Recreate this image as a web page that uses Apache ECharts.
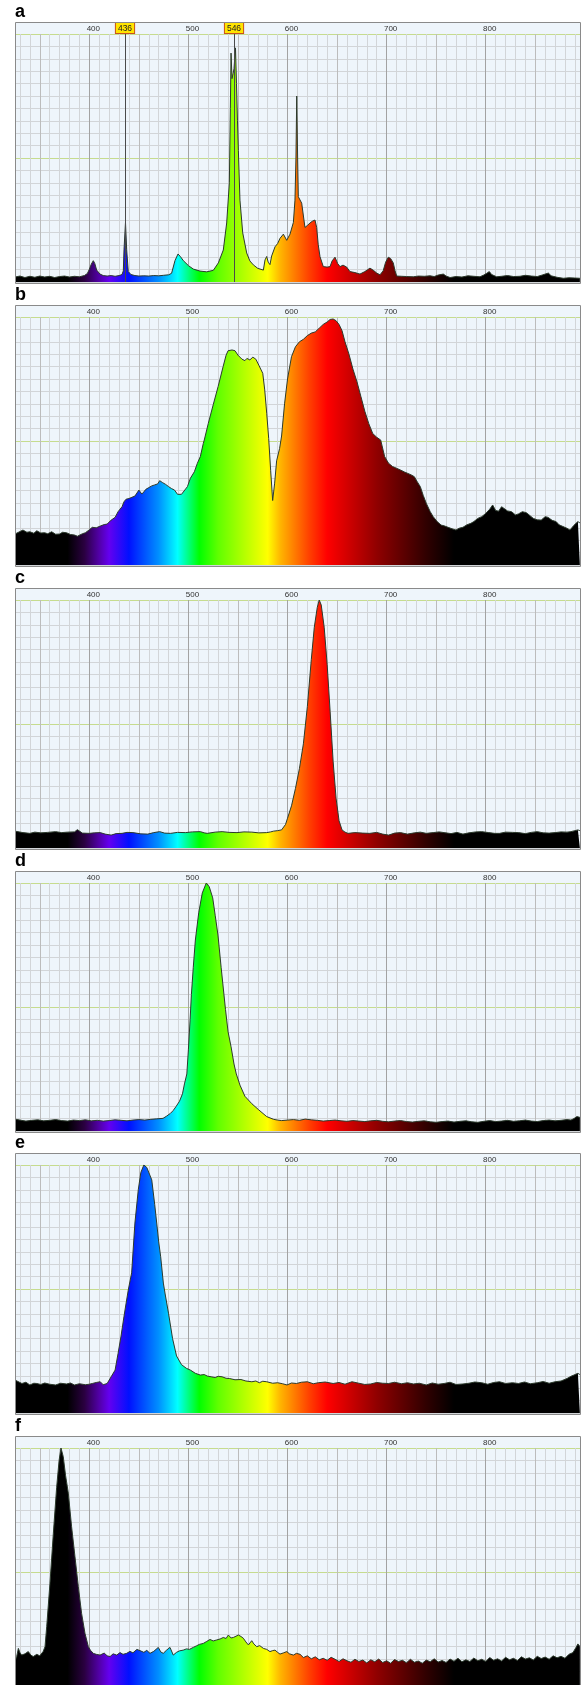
<!DOCTYPE html>
<html>
<head>
<meta charset="utf-8">
<script src="https://cdn.jsdelivr.net/npm/echarts@6/dist/echarts.min.js"></script>
<style>
  html, body { margin: 0; padding: 0; background: #fff; }
  #chart { width: 581px; height: 1685px; }
</style>
</head>
<body>
<div id="chart"></div>
<script>
// panel letters and axis labels
const panelNames = ['a', 'b', 'c', 'd', 'e', 'f'];
const tickLabels = [400, 500, 600, 700, 800];
const markerLines = [436, 546];

// spectra: [wavelength nm, intensity %]
const specA = [[325,2.0],[330,2.4],[335,1.8],[340,2.3],[345,1.9],[350,2.4],[355,2.0],[360,2.3],[365,1.8],[370,2.2],[375,2.4],[380,2.0],[385,2.3],[390,2.1],[395,2.6],[398,3.4],[400,5.1],[402,7.2],[404,8.6],[405.5,7.5],[407.4,4.8],[410.8,3.2],[414,2.6],[418,2.4],[422,2.6],[426,2.3],[430,2.6],[433,3.0],[434.3,4.5],[435,13],[436.5,24],[437.7,13],[439.3,4.2],[442,3.0],[446,2.6],[450,2.4],[455,2.5],[460,2.4],[465,2.6],[470,2.5],[475,2.7],[480,2.9],[483,3.5],[486.5,8.7],[489.5,11.3],[492,10.2],[494.9,8.6],[500,6.6],[505,5.2],[511.7,4.4],[518.4,4.1],[525.1,4.7],[530.2,7.7],[535.2,12.9],[538.6,23.8],[541.3,40],[542.3,70],[543,92.3],[544,82],[545,84],[546,86],[547.5,94.4],[548.5,80],[549.5,65],[550.4,53],[552,33],[554.8,19.8],[558.8,11.7],[562,8.5],[565.5,6.9],[570,5.5],[575.6,4.8],[577.3,8.9],[579,10.3],[580.5,8.0],[582.3,7.0],[584,10.5],[587.4,14.2],[590,15.5],[592.4,17.6],[595.8,19.3],[599.2,16.8],[602.5,19.3],[605.9,24],[607.5,33],[608.5,50],[609.3,75],[610.2,50],[610.9,34.4],[614.3,31.8],[617.6,22],[620,22.8],[622.7,23.8],[625,24.5],[627.7,25],[629.4,22],[631,15],[632.8,10.2],[636.1,6.2],[640,6.0],[642.9,6.2],[645,8.5],[647.9,10],[650.5,7.5],[653,6.2],[656,6.8],[659.7,6.0],[663,4.2],[668,3.8],[673.1,3.2],[678,4.2],[681,5.0],[683.2,5.6],[687,4.6],[690,3.6],[693.3,2.9],[696.5,4.5],[699,8],[701.7,10],[704,9.5],[706.7,7.7],[708.5,4.5],[710.2,2.4],[715,2.3],[720,2.2],[726.9,2.1],[732,2.4],[738,2.3],[743.8,2.5],[748,2.2],[752,2.8],[757.2,3.2],[760,2.4],[764,1.8],[770,2.2],[776,2.0],[782,2.5],[788,2.3],[794.2,2.1],[798,2.8],[801,3.5],[803.6,4.2],[806,3.0],[811,2.1],[816,2.3],[822,2.6],[828,2.2],[834.6,2.3],[840,2.7],[846,2.4],[852,2.2],[857,2.8],[860,3.2],[863.2,3.6],[866,2.5],[872,1.9],[878.3,1.5],[884,1.7],[890,1.6],[895,1.5]];

const specB = [[325,12.5],[330,13.5],[333,14.1],[337,13.2],[340,13.4],[344,12.8],[347,13.8],[351,12.9],[355,13.0],[358,12.6],[362,13.4],[366,12.4],[370,12.5],[373,13.2],[377,13.0],[381,12.3],[385,12.1],[388,11.6],[390,11.4],[393,12.6],[396,13.0],[400,14.2],[403,15.2],[407,15.0],[411,15.7],[415,16.3],[418,16.5],[422,18.1],[424,17.5],[426,19.2],[429,21.5],[431,22.3],[433,23.5],[435,25.5],[437,26.5],[440,26.8],[443,27.3],[446,27.8],[448,28.2],[450,30.2],[451,30.9],[453,28.6],[455,29.5],[457,30.5],[460,31.2],[463,31.9],[466,32.3],[469,32.7],[471,34],[474,33.2],[477,32.5],[480,31.6],[483,30.8],[486,30.2],[489,28.5],[491,27.8],[493,28.5],[495,28.9],[499,31.6],[502,35],[506,37.6],[509,41],[512,43.7],[515,49],[516,50.4],[520,57],[525,64.6],[530,72],[535,80],[538,84.6],[540,86.4],[544,86.7],[547,86.4],[550,84.6],[554,83],[557,82.4],[559,83.3],[562,82.7],[565,83.8],[568,83],[571,80.6],[575,77.3],[577,70.6],[579,61.2],[581,51],[583,38],[585,26],[587,33],[589,42],[592,47],[594,52],[597,65],[600,75],[604,84],[608,88],[612,90],[616,91],[620,92.5],[624,93.5],[628,94],[632,95.5],[636,97],[640,98],[643,99],[646,99.2],[649,98.5],[652,97],[655,94.5],[658,90],[662,85],[666,79],[670,74],[674,68],[678,62],[682,57],[686,53],[690,51.5],[694,50.4],[698,43.7],[702,41],[706,39.7],[710,39],[714,38.3],[718,37.5],[721,37],[725,36.3],[728,35.6],[731,33.5],[734,31.6],[737,28],[740,24.9],[744,21.5],[747,19.5],[751,17.5],[755,16.1],[758,15.8],[762,15.2],[766,14.6],[770,14.1],[773,14.8],[777,15.2],[781,16.2],[785,16.8],[788,17.5],[792,18.8],[796,19.5],[800,20.8],[804,22.5],[807,24.2],[810,22],[813,21.7],[816,23.5],[818,22.8],[822,21.8],[826,21.5],[830,20.2],[833,20.6],[837,21.5],[841,21.1],[845,19.8],[848,18.8],[852,18.2],[856,18.1],[860,19.5],[863,19.2],[867,18.0],[871,17.5],[874,16.2],[878,15.5],[882,14.8],[885,14.1],[889,16.0],[893,17.5],[895,17.0]];

const specC = [[325,6.8],[327,6.6],[333,6.2],[340,5.9],[345,6.4],[351,6.1],[358,6.3],[366,6.6],[372,6.2],[378,6.4],[385,6.5],[388,7.4],[393,6.0],[400,5.9],[405,6.1],[411,6.2],[416,5.6],[422,5.2],[427,5.8],[433,5.9],[438,6.3],[444,6.2],[452,5.7],[459,5.6],[465,6.2],[471,6.6],[476,6.0],[482,5.9],[489,6.3],[497,6.2],[504,6.5],[512,6.6],[516,6.1],[519,5.9],[527,6.4],[534,6.6],[541,6.3],[549,6.2],[556,6.5],[564,6.4],[571,6.1],[579,6.2],[583,6.5],[586,6.8],[590,7.0],[594,7.3],[596,8.0],[598,9.5],[600,12],[604,17],[608,24],[612,32],[616,42],[620,57],[624,76],[627,89],[630,97],[632,100],[634,98],[637,89],[640,74],[643,55],[646,35],[649,20],[652,11],[655,7.3],[658,6.4],[661,5.9],[668,6.2],[676,6.0],[683,5.9],[690,6.3],[696,5.6],[702,5.2],[708,6.0],[714,6.2],[721,5.6],[728,6.1],[734,6.4],[740,5.9],[747,6.2],[753,6.5],[758,6.2],[765,5.8],[771,6.3],[777,5.6],[783,6.1],[790,6.5],[796,6.6],[803,6.2],[809,5.9],[814,5.9],[820,6.4],[827,6.3],[833,6.2],[840,5.8],[846,6.3],[852,6.6],[858,6.1],[864,6.0],[870,6.2],[876,6.5],[882,6.4],[886,6.6],[890,7.0],[893,7.3],[895,7.0]];

const specD = [[325,4.8],[330,4.4],[336,4.0],[342,4.3],[348,4.5],[354,4.1],[360,4.3],[366,4.6],[372,4.2],[378,4.0],[384,4.4],[390,4.2],[396,4.5],[402,4.1],[408,4.3],[414,4.0],[420,4.2],[426,4.5],[432,4.3],[438,4.1],[444,4.4],[450,4.6],[456,4.4],[462,4.7],[468,4.9],[474.4,5.1],[478,6.0],[481.8,7.1],[484.5,8.2],[487.4,9.8],[491,12],[494,15],[496,19],[498.4,23],[500,33],[501.7,45],[503,55],[504.9,66],[507,77],[510.4,88],[514,96],[518,100],[521,98.5],[524.5,94],[527,87],[529.8,79],[533,66],[537.4,49],[540,40],[543,34],[546,27],[548.3,23],[552,18.5],[557,14],[564,11],[571,8.5],[579,5.8],[586,4.7],[590,4.4],[594,4.2],[600,4.4],[606,4.6],[612,4.3],[618,4.8],[624,4.5],[630,4.3],[636,4.0],[642,4.2],[648,4.4],[654,4.1],[660,3.9],[666,4.2],[672,4.0],[678,3.8],[684,4.1],[690,4.3],[696,3.9],[702,3.7],[708,4.0],[714,4.2],[720,3.8],[726,3.6],[732,3.9],[738,4.1],[744,3.7],[750,3.5],[756,3.8],[762,4.0],[768,3.6],[774,3.9],[780,4.1],[786,3.7],[792,3.5],[798,3.9],[804,4.2],[810,3.8],[816,4.0],[822,4.3],[828,3.9],[834,4.1],[840,4.4],[846,4.0],[852,3.8],[858,4.2],[864,4.4],[870,4.1],[876,4.3],[882,4.6],[886,4.4],[889,5.0],[892,5.8],[895,5.5]];

const specE = [[325,13.3],[327,13.3],[332,11.9],[336,12.4],[340,11.3],[344,12.0],[347,11.9],[351,11.5],[355,12.1],[360,11.6],[366,11.3],[371,12.0],[377,11.7],[381,12.1],[385,11.3],[390,11.8],[396,11.4],[400,11.6],[403,11.9],[407,12.3],[411,12.6],[414,11.4],[418,11.9],[422,14.6],[426,17.3],[429,24],[432,31],[435,39],[437,44],[439.3,49.6],[442.7,56.5],[446,76.6],[449.4,90],[452,97],[455,100],[458,99],[461,96],[463,94],[466,84],[468,76.6],[470,69],[472,63],[474.7,52.4],[476.5,48],[480,40],[484,30],[488,23],[493,19.5],[498,18],[502,17.3],[507,16.0],[512,15.3],[516,15.5],[519,14.9],[523,14.6],[527,14.3],[530,14.8],[534,14.6],[538,14.0],[541.5,13.9],[547,13.4],[553,13.5],[558,12.9],[564,12.6],[568,12.9],[571.5,12.2],[575,12.8],[579,12.6],[585,12.0],[590,12.2],[595,11.8],[599.5,11.3],[604,12.1],[609,11.9],[614,12.4],[620,12.6],[626,11.8],[631,12.2],[638,12.5],[646,11.9],[652,12.3],[658,11.6],[665,12.6],[672,12.0],[678,11.5],[684,11.7],[690,12.3],[696,12.0],[702,11.9],[708,12.4],[715,11.8],[721,12.2],[727,11.7],[733,12.0],[740,11.3],[746,12.1],[752,11.6],[758,11.9],[764,12.4],[770,11.5],[777,11.7],[783,12.0],[789,12.5],[796,12.2],[802,11.6],[808,12.3],[814,12.6],[820,11.9],[827,12.2],[833,11.9],[839,12.5],[845,11.8],[852,12.2],[858,12.7],[864,12.0],[870,12.6],[876,12.9],[882,13.9],[886,14.8],[889,15.3],[893,16],[895,15.5]];

const specF = [[325,14],[326.7,15.9],[328.4,19.2],[330,17.5],[331.7,16.5],[335,17.0],[338.4,17.9],[341,16.5],[343.4,15.9],[347,16.8],[350,16.2],[351.9,16.5],[353.5,18],[355.3,19.9],[357,28],[360.3,45.5],[363.7,65.6],[367,84],[369.5,95],[371.4,100],[373.7,96.5],[376,89],[378.8,81.8],[382.1,68.3],[385.5,56.2],[388.9,44.1],[392.2,33.3],[395.6,25.3],[399,19.9],[401,18.5],[404,17.2],[407,16.8],[410.8,16.5],[415,17.3],[418,16.2],[420.9,15.9],[424,17],[427.6,16.5],[431,17.5],[434,16.8],[437.7,17.2],[441,18],[444,17.4],[448,18.8],[451.1,18.3],[455,17.6],[458,18.4],[461.2,17.2],[465,18.0],[469.6,19.6],[472,17.8],[474.6,17.2],[478,18.5],[481.4,19.6],[484.7,16.5],[488,17.6],[491,18.2],[494.8,18.5],[498,19.0],[501,18.8],[504.9,19.6],[508,20.2],[511,20.8],[515,21.2],[518,21.9],[521.8,22.8],[525,22.2],[528.5,22.6],[532,23.0],[535.2,23.6],[538,23.2],[540.3,24.6],[543,23.4],[545.3,23.6],[548,24.1],[550.4,24.6],[553,24.0],[555.4,23.3],[558,21.8],[560.5,20.6],[563.9,22.3],[566,21],[568.9,19.9],[572,20.3],[575.6,19.2],[579,18.8],[582.3,17.9],[585,18.3],[587.4,18.5],[590,17.6],[592.4,16.9],[596,17.4],[599.2,17.9],[602,17.0],[605.9,16.5],[609,17.2],[612.7,16.8],[616,15.5],[620,16.2],[624,15.0],[628,15.8],[632,14.6],[636,15.2],[640,14.4],[644,15.6],[648,14.8],[652,13.9],[656,15.0],[660,14.2],[664,13.6],[668,14.8],[672,13.9],[676,14.5],[680,13.3],[684,14.6],[688,13.8],[692,14.9],[696,13.5],[700,14.2],[704,13.2],[708,14.7],[712,13.9],[716,14.4],[720,13.4],[724,14.8],[728,13.6],[732,14.1],[736,13.2],[740,14.5],[744,13.8],[748,15.0],[752,13.7],[756,14.3],[760,13.5],[764,14.9],[768,14.0],[772,15.2],[776,13.8],[780,14.6],[784,13.9],[788,15.3],[792,14.2],[796,14.8],[800,13.9],[804,15.5],[808,14.4],[812,15.0],[816,14.1],[820,15.6],[824,14.6],[828,15.2],[832,14.3],[836,15.8],[840,14.9],[844,15.4],[848,14.5],[852,16.0],[856,15.1],[860,15.7],[864,14.8],[868,16.2],[872,15.4],[876,16.0],[880,15.2],[884,16.8],[888,17.5],[891,19.5],[893,21],[895,20]];

const spectra = [specA, specB, specC, specD, specE, specF];

// rainbow fill under the curve, stops by wavelength
const rainbowStops = [[325,'#000000'],[378,'#000000'],[395,'#2a0040'],[410,'#5200a8'],[420,'#6400f0'],[440,'#0010ff'],[455,'#0050ff'],[470,'#0090ff'],[489,'#00ffff'],[500,'#00ff80'],[511,'#00ff00'],[530,'#60ff00'],[555,'#b0ff00'],[580,'#ffff00'],[593,'#ffb400'],[606,'#ff8000'],[622,'#ff4000'],[640,'#ff0000'],[665,'#c80000'],[690,'#900000'],[715,'#600000'],[740,'#300000'],[768,'#000000'],[895,'#000000']];

const nmMin = 320, nmMax = 900, dataMin = 325, dataMax = 895;
const pxPerNm = 0.991;
const boxLeft = 15, boxRight = 580;
const panelTop = [22, 305, 588, 871, 1153, 1436];
const headerH = 12, plotH = 248;
const gridLeft = boxLeft - (dataMin - nmMin) * pxPerNm;
const gridWidth = (nmMax - nmMin) * pxPerNm;

const vLineColors = [];
for (let v = nmMin; v <= nmMax; v += 10) {
  if (v === nmMin) vLineColors.push('rgba(0,0,0,0)');
  else if (v % 100 === 0) vLineColors.push('#a3a3a3');
  else if (v % 50 === 0) vLineColors.push('#bcbcbc');
  else vLineColors.push('#d2d5d8');
}
const hLineColors = [];
for (let v = 0; v <= 100; v += 5) {
  hLineColors.push(v === 50 || v === 100 ? '#c6dc8e' : '#d2d5d8');
}

function rainbow() {
  return new echarts.graphic.LinearGradient(0, 0, 1, 0,
    rainbowStops.map(([nm, c]) => ({ offset: (nm - dataMin) / (dataMax - dataMin), color: c })));
}

const chart = echarts.init(document.getElementById('chart'));

const grids = [], xAxes = [], yAxes = [], series = [], graphics = [];
panelTop.forEach((t, i) => {
  grids.push({ left: gridLeft, top: t + headerH, width: gridWidth, height: plotH, outerBoundsMode: 'none', containLabel: false });
  xAxes.push({
    gridIndex: i, type: 'value', position: 'top', min: nmMin, max: nmMax, interval: 10,
    axisLine: { show: false }, axisTick: { show: false },
    axisLabel: {
      margin: 1, fontSize: 8, color: '#333', fontFamily: 'Liberation Sans',
      padding: [0, 0, 0, 8],
      formatter: v => tickLabels.includes(v) ? String(v) : ''
    },
    splitLine: { show: true, lineStyle: { color: vLineColors, width: 1 } }
  });
  yAxes.push({
    gridIndex: i, type: 'value', min: 0, max: 100, interval: 5,
    axisLine: { show: false }, axisTick: { show: false }, axisLabel: { show: false },
    splitLine: { show: true, lineStyle: { color: hLineColors, width: 1 } }
  });
  const s = {
    type: 'line', xAxisIndex: i, yAxisIndex: i, data: spectra[i],
    symbol: 'none', smooth: false, silent: true, z: 2,
    lineStyle: { color: '#2c3a2c', width: 1 },
    areaStyle: { color: rainbow(), opacity: 1 }
  };
  if (i === 0) {
    s.markLine = {
      silent: true, symbol: ['none', 'none'], animation: false,
      lineStyle: { color: '#4a4a4a', width: 1, type: 'solid' },
      label: {
        show: true, position: 'end', distance: 1, formatter: p => String(p.value),
        backgroundColor: '#ffe400', borderColor: '#c8501e', borderWidth: 1,
        padding: [1, 2, 0, 2], fontSize: 8.5, color: '#222', fontFamily: 'Liberation Sans'
      },
      data: markerLines.map(v => ({ xAxis: v }))
    };
  }
  series.push(s);

  // panel background, frame, left cover, letter
  graphics.push({ type: 'rect', z: -10, silent: true,
    shape: { x: boxLeft, y: t, width: boxRight - boxLeft, height: headerH + plotH + 1 },
    style: { fill: '#eef5fb' } });
  graphics.push({ type: 'rect', z: 50, silent: true,
    shape: { x: 0, y: t, width: boxLeft, height: headerH + plotH + 2 },
    style: { fill: '#ffffff' } });
  graphics.push({ type: 'rect', z: 60, silent: true,
    shape: { x: boxLeft + 0.5, y: t + 0.5, width: boxRight - boxLeft, height: headerH + plotH + 1 },
    style: { fill: null, stroke: '#8a8a8a', lineWidth: 1 } });
  graphics.push({ type: 'text', z: 60, silent: true, x: boxLeft, y: t - 10,
    style: { text: panelNames[i], font: 'bold 18px "Liberation Sans"', fill: '#000', verticalAlign: 'middle' } });
});

chart.setOption({
  animation: false,
  grid: grids,
  xAxis: xAxes,
  yAxis: yAxes,
  series: series,
  graphic: graphics
});
</script>
</body>
</html>
